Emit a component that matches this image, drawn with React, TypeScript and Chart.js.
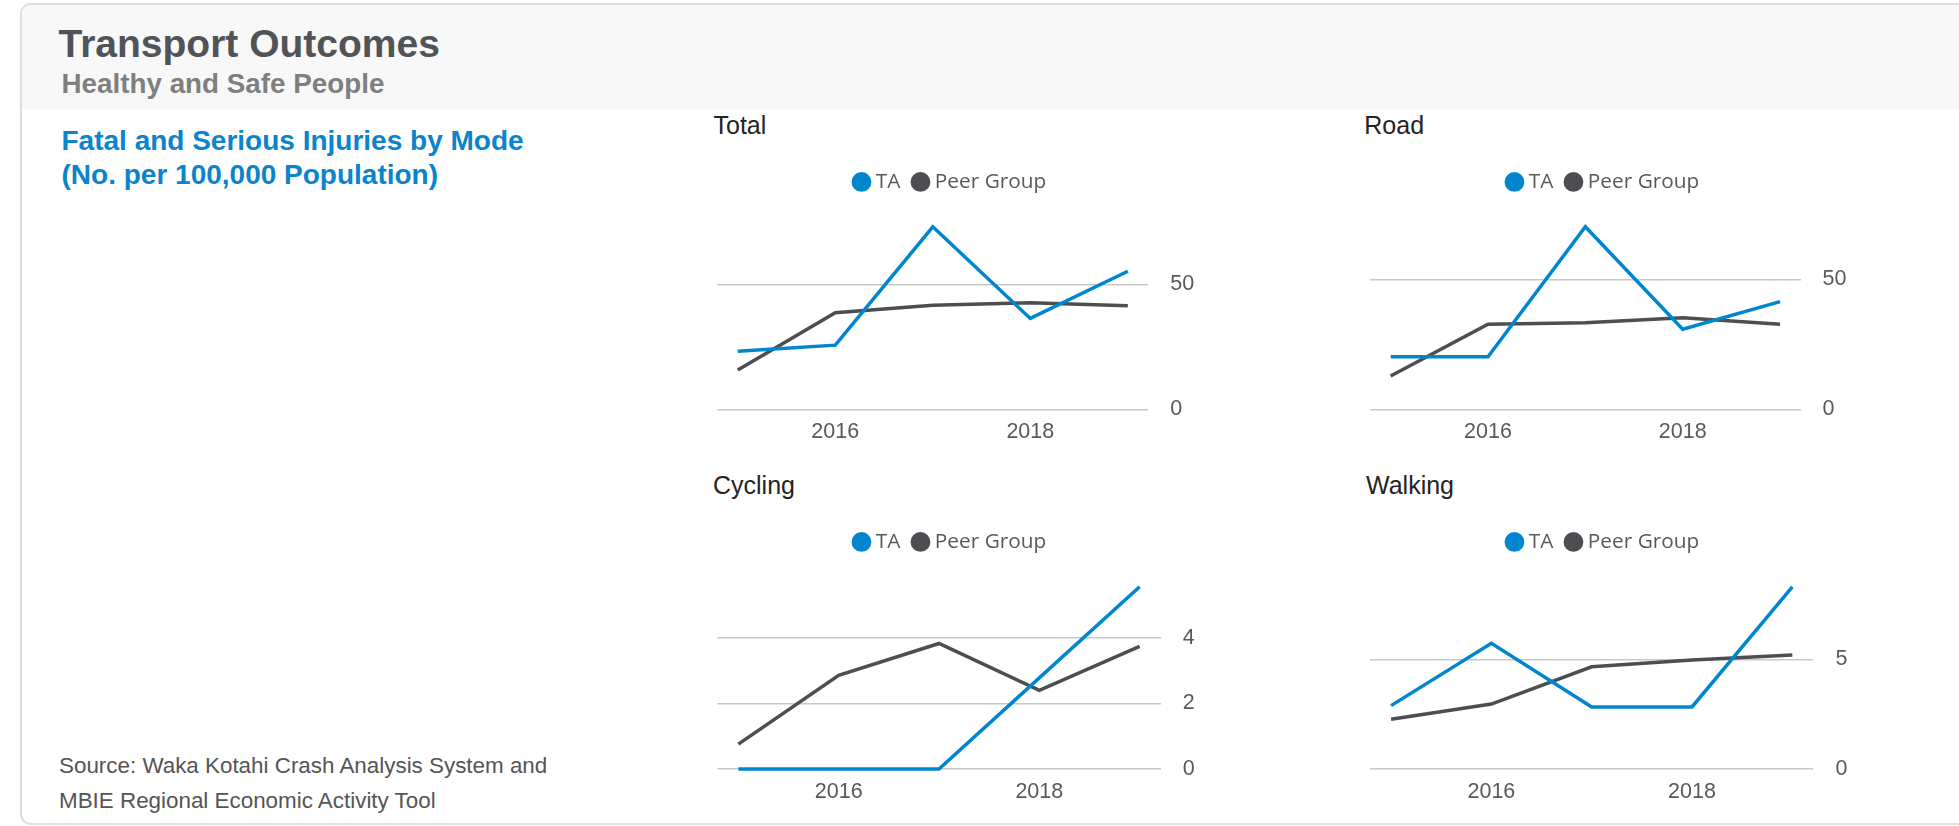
import React, { useEffect, useRef } from "react";
import { Chart, registerables } from "chart.js";

Chart.register(...registerables);

// ---------- data ----------
const years = [2015, 2016, 2017, 2018, 2019];
const xTickLabels = [2016, 2018];

const totalTA = [23.3, 25.7, 73.1, 36.4, 55.3];
const totalPeer = [15.7, 38.7, 41.7, 42.7, 41.5];
const totalTicks = [0, 50];

const roadTA = [20.2, 20.2, 70.2, 30.8, 41.4];
const roadPeer = [12.8, 32.7, 33.3, 35.2, 32.7];
const roadTicks = [0, 50];

const cyclingTA = [0, 0, 0, 2.78, 5.56];
const cyclingPeer = [0.76, 2.86, 3.83, 2.4, 3.74];
const cyclingTicks = [0, 2, 4];

const walkingTA = [2.89, 5.73, 2.83, 2.83, 8.31];
const walkingPeer = [2.27, 2.96, 4.66, 4.97, 5.2];
const walkingTicks = [0, 5];

const seriesNames = ["TA", "Peer Group"];

// ---------- styles ----------
const BLUE = "#0086CF";
const GRAY = "#4C4E52";
const TICK_COLOR = "#5A5957";
const X_PAD = 0.21;
const AXIS_W = 50;

type PanelProps = {
  title: string;
  ta: number[];
  peer: number[];
  yTicks: number[];
  left: number;
  top: number;
  width: number;
  height: number;
  pad: { left: number; right: number; top: number; bottom: number };
  legendCenter: number;
  titleLeft: number;
  titleTop: number;
};

const legendLayout = (extra: number, centerX: number) => ({
  id: "legendLayout",
  beforeInit(chart: any) {
    const origFit = chart.legend.fit;
    chart.legend.fit = function fit() {
      origFit.bind(chart.legend)();
      this.height += extra;
    };
  },
  afterLayout(chart: any) {
    const lg = chart.legend;
    const w = lg.right - lg.left;
    lg.left = centerX - w / 2;
    lg.right = lg.left + w;
  },
});

function Panel(p: PanelProps) {
  const ref = useRef<HTMLCanvasElement>(null);
  useEffect(() => {
    if (!ref.current) return;
    const yMax = Math.max(...p.ta, ...p.peer);
    const chart = new Chart(ref.current, {
      type: "line",
      data: {
        datasets: [
          {
            label: seriesNames[0],
            data: years.map((y, i) => ({ x: y, y: p.ta[i] })),
            borderColor: BLUE,
            backgroundColor: BLUE,
            pointBackgroundColor: BLUE,
            pointBorderWidth: 0,
            borderWidth: 3.5,
            pointRadius: 0,
            tension: 0,
            clip: false,
          },
          {
            label: seriesNames[1],
            data: years.map((y, i) => ({ x: y, y: p.peer[i] })),
            borderColor: GRAY,
            backgroundColor: GRAY,
            pointBackgroundColor: GRAY,
            pointBorderWidth: 0,
            borderWidth: 3.5,
            pointRadius: 0,
            tension: 0,
            clip: false,
          },
        ],
      },
      options: {
        animation: false,
        responsive: false,
        maintainAspectRatio: false,
        layout: { padding: p.pad, autoPadding: false },
        plugins: {
          title: { display: false },
          tooltip: { enabled: false },
          legend: {
            position: "top",
            align: "center",
            labels: {
              usePointStyle: true,
              pointStyle: "circle",
              boxWidth: 8,
              boxHeight: 14,
              padding: 16,
              color: TICK_COLOR,
              font: { family: '"Open Sans"', size: 20.8 },
            },
          },
        },
        scales: {
          x: {
            type: "linear",
            min: years[0] - X_PAD,
            max: years[years.length - 1] + X_PAD,
            grid: { display: false, drawTicks: false },
            border: { display: false },
            ticks: {
              padding: 10,
              color: TICK_COLOR,
              font: { family: '"Liberation Sans", Arial', size: 21.5 },
              maxRotation: 0,
              autoSkip: false,
              callback: (v: any) => String(v),
            },
            afterBuildTicks: (s: any) => {
              s.ticks = xTickLabels.map((v) => ({ value: v }));
            },
            afterFit: (s: any) => {
              s.height = 36;
            },
          },
          y: {
            position: "right",
            min: 0,
            max: yMax,
            grid: { color: "#C8C8C8", lineWidth: 1.5, drawTicks: false },
            border: { display: false },
            ticks: {
              padding: 22,
              color: TICK_COLOR,
              font: { family: '"Liberation Sans", Arial', size: 21.5 },
              includeBounds: false,
              callback: (v: any) => String(v),
            },
            afterBuildTicks: (s: any) => {
              s.ticks = p.yTicks.map((v) => ({ value: v }));
            },
            afterFit: (s: any) => {
              s.width = AXIS_W;
            },
          },
        },
      },
      plugins: [legendLayout(24.5, p.legendCenter - p.left)],
    } as any);
    return () => chart.destroy();
  }, []);
  return (
    <>
      <div
        style={{
          position: "absolute",
          left: p.titleLeft,
          top: p.titleTop,
          fontFamily: '"Liberation Sans", Arial, sans-serif',
          fontSize: 25,
          lineHeight: "25px",
          color: "#252423",
          whiteSpace: "nowrap",
        }}
      >
        {p.title}
      </div>
      <canvas
        ref={ref}
        width={p.width}
        height={p.height}
        style={{
          position: "absolute",
          left: p.left,
          top: p.top,
          width: p.width,
          height: p.height,
        }}
      />
    </>
  );
}

export default function App() {
  const sans = '"Liberation Sans", Arial, sans-serif';
  return (
    <div
      style={{
        position: "fixed",
        left: 0,
        top: 0,
        width: 1959,
        height: 826,
        overflow: "hidden",
        background: "#ffffff",
        fontFamily: sans,
      }}
    >
      {/* card */}
      <div
        style={{
          position: "absolute",
          left: 20,
          top: 3,
          width: 1990,
          height: 818,
          border: "2px solid #DEDEDE",
          borderRadius: 11,
          background: "#ffffff",
          overflow: "hidden",
        }}
      >
        <div
          style={{
            position: "absolute",
            left: 0,
            top: 0,
            right: 0,
            height: 104,
            background: "#F8F8F8",
          }}
        />
      </div>

      <div
        style={{
          position: "absolute",
          left: 58.5,
          top: 24,
          fontSize: 39,
          lineHeight: "39px",
          fontWeight: 700,
          color: "#505357",
          whiteSpace: "nowrap",
        }}
      >
        Transport Outcomes
      </div>
      <div
        style={{
          position: "absolute",
          left: 61.5,
          top: 70.1,
          fontSize: 27.8,
          lineHeight: "27.8px",
          fontWeight: 700,
          color: "#7F7F7F",
          whiteSpace: "nowrap",
        }}
      >
        Healthy and Safe People
      </div>
      <div
        style={{
          position: "absolute",
          left: 61.5,
          top: 123.6,
          fontSize: 28,
          lineHeight: "34.5px",
          fontWeight: 700,
          color: "#0A84CC",
          whiteSpace: "nowrap",
        }}
      >
        Fatal and Serious Injuries by Mode
        <br />
        (No. per 100,000 Population)
      </div>
      <div
        style={{
          position: "absolute",
          left: 59,
          top: 747.8,
          fontSize: 22.4,
          lineHeight: "35px",
          color: "#555555",
          whiteSpace: "nowrap",
        }}
      >
        Source: Waka Kotahi Crash Analysis System and
        <br />
        MBIE Regional Economic Activity Tool
      </div>

      <Panel
        title="Total"
        ta={totalTA}
        peer={totalPeer}
        yTicks={totalTicks}
        left={712}
        top={150}
        width={510}
        height={300}
        pad={{ left: 5.3, right: 23.7, top: 5.5, bottom: 4.7 }}
        legendCenter={951.85}
        titleLeft={713.5}
        titleTop={112.8}
      />
      <Panel
        title="Road"
        ta={roadTA}
        peer={roadPeer}
        yTicks={roadTicks}
        left={1365}
        top={150}
        width={510}
        height={300}
        pad={{ left: 5.2, right: 24.5, top: 5.5, bottom: 4.7 }}
        legendCenter={1604.85}
        titleLeft={1364.3}
        titleTop={112.8}
      />
      <Panel
        title="Cycling"
        ta={cyclingTA}
        peer={cyclingPeer}
        yTicks={cyclingTicks}
        left={712}
        top={510}
        width={510}
        height={300}
        pad={{ left: 5.3, right: 11.3, top: 5.5, bottom: 5 }}
        legendCenter={951.85}
        titleLeft={713}
        titleTop={473.3}
      />
      <Panel
        title="Walking"
        ta={walkingTA}
        peer={walkingPeer}
        yTicks={walkingTicks}
        left={1365}
        top={510}
        width={510}
        height={300}
        pad={{ left: 5, right: 11.6, top: 5.5, bottom: 5 }}
        legendCenter={1604.85}
        titleLeft={1366}
        titleTop={473.3}
      />
    </div>
  );
}
